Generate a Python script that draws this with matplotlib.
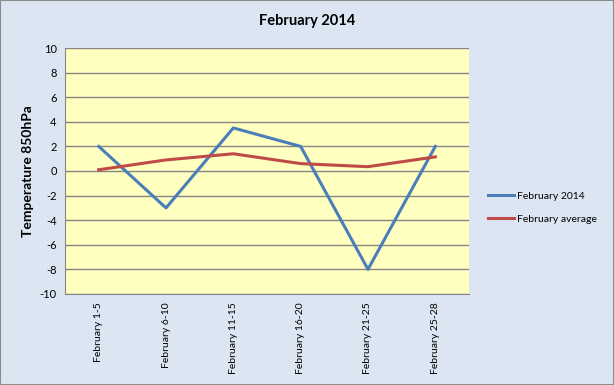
import matplotlib
matplotlib.use("Agg")
import matplotlib.pyplot as plt
from matplotlib.patches import Rectangle

plt.rcParams['font.family'] = ['Lato', 'DejaVu Sans']

categories = ["February 1-5", "February 6-10", "February 11-15", "February 16-20", "February 21-25", "February 25-28"]
feb2014 = [2, -3, 3.5, 2, -8, 2]
feb_avg = [0.1, 0.9, 1.4, 0.6, 0.35, 1.15]
yticks = list(range(-10, 11, 2))

fig = plt.figure(figsize=(6.14, 3.85), dpi=100)
fig.patch.set_facecolor('#dce6f2')
fig.patches.append(Rectangle((0, 0), 1, 1, transform=fig.transFigure, fill=False,
                             edgecolor='#8c8c8c', linewidth=1.5))
ax = fig.add_axes([0.1059, 0.2364, 0.6579, 0.6389])
ax.set_facecolor('#ffffc0')

x = list(range(len(categories)))
ax.plot(x, feb2014, color='#4a7ebb', linewidth=2.2, label='February 2014')
ax.plot(x, feb_avg, color='#be4b48', linewidth=2.2, label='February average')

ax.set_xlim(-0.5, len(categories) - 0.5)
ax.set_ylim(-10, 10)
ax.set_yticks(yticks)
ax.set_yticklabels([str(v) for v in yticks], fontsize=8)
ax.set_xticks(x)
ax.set_xticklabels(categories, rotation=90, fontsize=7.5)
ax.tick_params(length=0, pad=6)
ax.yaxis.grid(True, color='#868686', linewidth=1)
ax.set_axisbelow(True)
for s in ax.spines.values():
    s.set_color('#868686')
ax.spines['top'].set_visible(False)
ax.spines['right'].set_visible(False)

ax.set_ylabel('Temperature 850hPa', fontsize=10, fontweight='bold', labelpad=4)
fig.text(0.5, 0.945, 'February 2014', ha='center', va='center', fontsize=10.5, fontweight='bold')

fig.legend(loc='center left', bbox_to_anchor=(0.78, 0.46), frameon=False, fontsize=7.5,
           handlelength=2.5, handletextpad=0.3, labelspacing=1.3)

fig.savefig('out.png', dpi=100, facecolor=fig.get_facecolor())
